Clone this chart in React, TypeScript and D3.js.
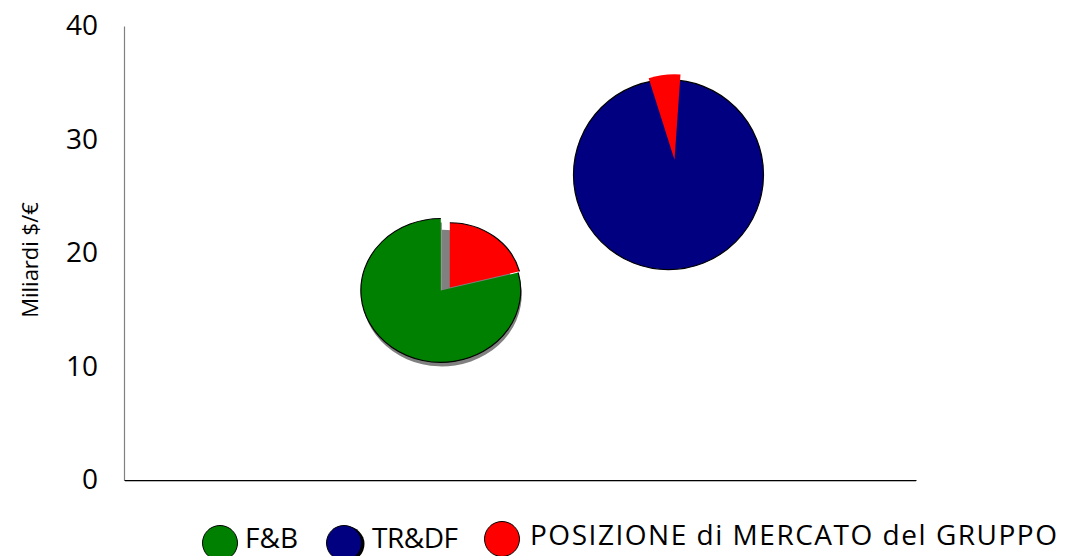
import { useEffect, useRef } from 'react';
import * as d3 from 'd3';

const segments = ['F&B', 'TR&DF'];
const segmentX = [3.2, 5.5];
const segmentY = [16.7, 26.9];
const marketSize = [17.7, 25];
const groupShare = [0.21, 0.06];
const yTicks = [0, 10, 20, 30, 40];
const groupLabel = 'POSIZIONE di MERCATO del GRUPPO';

const segmentColors = ['#008000', '#000080'];
const groupColor = '#ff0000';
const FONT = "'Open Sans', sans-serif";

// look of each bubble in the original (tilt, exploded slice, rotation, shadow)
const bubbleStyle = [
  { tilt: 0.9, explode: [9, -3], rotate: 0, shadow: true, fullBase: false, outline: true },
  { tilt: 1, explode: [6, -15], rotate: -0.307, shadow: false, fullBase: true, outline: false },
];

const App = () => {
  const svgRef = useRef(null);

  useEffect(() => {
    const svg = d3.select(svgRef.current);
    svg.selectAll('*').remove();

    const x = d3.scaleLinear().domain([0, 8]).range([124, 916]);
    const y = d3.scaleLinear().domain([0, 40]).range([480, 26]);
    const r = d3.scaleSqrt().domain([0, 25]).range([0, 95]);

    // Axes
    const yAxis = svg.append('g')
      .attr('transform', 'translate(124,0)')
      .call(d3.axisLeft(y).tickValues(yTicks).tickSize(0).tickPadding(26));
    yAxis.select('.domain').attr('stroke', '#808080').attr('stroke-width', 1.2);
    yAxis.selectAll('text')
      .attr('font-family', FONT)
      .attr('font-size', 28)
      .attr('fill', '#000');

    svg.append('line')
      .attr('x1', 125).attr('x2', 916)
      .attr('y1', 481).attr('y2', 481)
      .attr('stroke', '#a0a0a0').attr('stroke-width', 1.5);
    const xAxis = svg.append('g')
      .attr('transform', 'translate(0,480)')
      .call(d3.axisBottom(x).tickValues([]).tickSizeOuter(0));
    xAxis.select('.domain').attr('stroke', '#000').attr('stroke-width', 1.2);

    svg.append('text')
      .attr('transform', 'translate(38,260) rotate(-90)')
      .attr('text-anchor', 'middle')
      .attr('font-family', FONT)
      .attr('font-size', 22)
      .attr('fill', '#000')
      .text('Miliardi $/€');

    // Bubbles drawn as pies
    segments.forEach((name, i) => {
      const st = bubbleStyle[i];
      const cx = x(segmentX[i]);
      const cy = y(segmentY[i]);
      const R = r(marketSize[i]);
      const share = groupShare[i];

      const pie = d3.pie<number>().sort(null)
        .startAngle(st.rotate).endAngle(st.rotate + 2 * Math.PI);
      const [groupSlice, baseSlice] = pie([share, 1 - share]);

      const baseArc = d3.arc().innerRadius(0).outerRadius(R);
      const groupArc = d3.arc().innerRadius(0).outerRadius(R * 0.9);
      const baseEdge = d3.arc().innerRadius(R).outerRadius(R);
      const groupEdge = d3.arc().innerRadius(R * 0.9).outerRadius(R * 0.9);

      if (st.shadow) {
        const sh = svg.append('g')
          .attr('transform', `translate(${cx + 1},${cy + 4}) scale(1,${st.tilt})`);
        sh.append('path').attr('d', baseArc(baseSlice)).attr('fill', '#808080');
        sh.append('path').attr('d', groupArc(groupSlice)).attr('fill', '#808080');
      }

      const g = svg.append('g')
        .attr('transform', `translate(${cx},${cy}) scale(1,${st.tilt})`);
      if (st.fullBase) {
        g.append('circle').attr('r', R)
          .attr('fill', segmentColors[i])
          .attr('stroke', '#000').attr('stroke-width', 1.2);
      } else {
        g.append('path').attr('d', baseArc(baseSlice)).attr('fill', segmentColors[i]);
        g.append('path').attr('d', baseEdge(baseSlice))
          .attr('fill', 'none').attr('stroke', '#000').attr('stroke-width', 1.2);
      }

      const gr = svg.append('g')
        .attr('transform', `translate(${cx + st.explode[0]},${cy + st.explode[1]}) scale(1,${st.tilt})`);
      gr.append('path').attr('d', groupArc(groupSlice)).attr('fill', groupColor);
      if (st.outline) {
        gr.append('path').attr('d', groupEdge(groupSlice))
          .attr('fill', 'none').attr('stroke', '#000').attr('stroke-width', 1.2);
      }
    });

    // Legend
    const legend = [
      { label: segments[0], color: segmentColors[0], cx: 220, cy: 543, tx: 245, ty: 548, len: 53, shade: false },
      { label: segments[1], color: segmentColors[1], cx: 344, cy: 543, tx: 372, ty: 548, len: 86, shade: true },
      { label: groupLabel, color: groupColor, cx: 502, cy: 539, tx: 530, ty: 545, len: 527, shade: false },
    ];
    legend.forEach(l => {
      if (l.shade) {
        svg.append('circle').attr('cx', l.cx + 3).attr('cy', l.cy + 1).attr('r', 17.5).attr('fill', '#000');
      }
      svg.append('circle')
        .attr('cx', l.cx).attr('cy', l.cy).attr('r', 17.5)
        .attr('fill', l.color)
        .attr('stroke', '#000').attr('stroke-width', 1);
      svg.append('text')
        .attr('x', l.tx).attr('y', l.ty)
        .attr('font-family', FONT)
        .attr('font-size', 28)
        .attr('textLength', l.len)
        .attr('lengthAdjust', 'spacing')
        .attr('fill', '#000')
        .text(l.label);
    });
  }, []);

  return (
    <svg ref={svgRef} width={1068} height={556}
      style={{ position: 'absolute', left: 0, top: 0, background: '#fff' }} />
  );
};

export default App;
